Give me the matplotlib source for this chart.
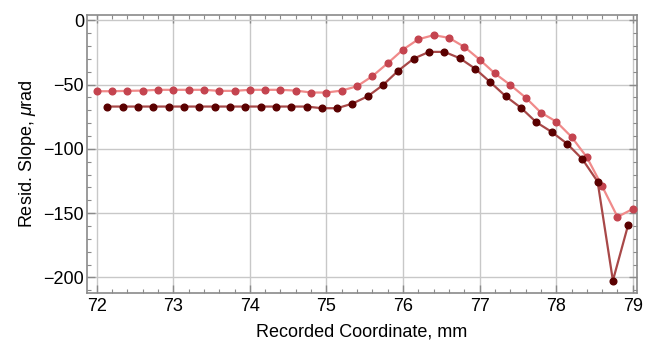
import matplotlib.pyplot as plt
import numpy as np
from matplotlib.ticker import MultipleLocator

# light series (upper curve)
x_light = [72.0, 72.2, 72.4, 72.6, 72.8, 73.0, 73.2, 73.4, 73.6, 73.8, 74.0, 74.2,
           74.4, 74.6, 74.8, 75.0, 75.2, 75.4, 75.6, 75.8, 76.0, 76.2, 76.4, 76.6,
           76.8, 77.0, 77.2, 77.4, 77.6, 77.8, 78.0, 78.2, 78.4, 78.6, 78.8, 79.0]
y_light = [-55.2, -55.2, -54.9, -54.7, -54.1, -54.1, -54.1, -54.1, -54.9, -54.9, -54.1, -54.1,
           -54.1, -54.7, -56.2, -56.2, -54.7, -51.3, -43.5, -33.4, -22.8, -14.8, -11.6, -13.7,
           -20.7, -30.6, -41.4, -50.3, -60.1, -71.8, -78.8, -90.7, -106.5, -129.1, -152.9, -146.7]

# dark series (lower curve)
x_dark = [72.14, 72.34, 72.54, 72.74, 72.94, 73.14, 73.34, 73.54, 73.74, 73.94, 74.14, 74.34,
          74.54, 74.74, 74.94, 75.14, 75.34, 75.54, 75.74, 75.94, 76.14, 76.34, 76.54, 76.74,
          76.94, 77.14, 77.34, 77.54, 77.74, 77.94, 78.14, 78.34, 78.54, 78.74, 78.94]
y_dark = [-67.1, -67.1, -67.1, -67.1, -67.1, -67.1, -67.1, -67.1, -67.1, -67.1, -67.1, -67.1,
          -67.1, -67.1, -68.4, -68.4, -64.8, -59.1, -50.3, -39.1, -29.8, -24.6, -24.6, -29.5,
          -37.6, -48.2, -59.1, -68.1, -79.3, -86.8, -95.9, -107.9, -125.4, -202.4, -158.9]

plt.rcParams['font.family'] = ['Liberation Sans', 'DejaVu Sans']
plt.rcParams['mathtext.fontset'] = 'custom'
plt.rcParams['mathtext.it'] = 'Liberation Sans:italic'

fig = plt.figure(figsize=(6.47, 3.43), dpi=100)
ax = fig.add_axes([0.134, 0.146, 0.85, 0.81])

ax.plot(x_light, y_light, color='#f08a8a', lw=1.6, marker='o', ms=4.8,
        markerfacecolor='#c4444f', markeredgecolor='#c4444f', zorder=3)
ax.plot(x_dark, y_dark, color='#a84848', lw=1.6, marker='o', ms=4.8,
        markerfacecolor='#5a0000', markeredgecolor='#5a0000', zorder=4)

ax.set_xlim(71.87, 79.05)
ax.set_ylim(-212, 4)
ax.xaxis.set_major_locator(MultipleLocator(1))
ax.xaxis.set_minor_locator(MultipleLocator(0.2))
ax.yaxis.set_major_locator(MultipleLocator(50))
ax.yaxis.set_minor_locator(MultipleLocator(10))

ax.grid(True, which='major', color='#c8c8c8', lw=1.0)
ax.set_axisbelow(True)
for s in ax.spines.values():
    s.set_color('#8a8a8a')
    s.set_linewidth(1.2)

ax.tick_params(which='both', direction='in', top=True, right=True, color='#8a8a8a')
ax.tick_params(which='major', length=6, width=1.0, labelsize=13)
ax.tick_params(which='minor', length=3, width=0.8)
ax.tick_params(axis='y', which='major', pad=2)
ax.tick_params(axis='x', which='major', pad=4)

yt = ax.get_yticks()
ax.set_yticks(yt)
ax.set_yticklabels(['\u2212' + str(int(-v)) if v < 0 else str(int(v)) for v in yt])
ax.set_ylim(-212, 4)

ax.set_xlabel('Recorded Coordinate, mm', fontsize=13, labelpad=6)
ax.set_ylabel(r'Resid. Slope, $\mathit{\mu}$rad', fontsize=13, labelpad=4)

fig.savefig('out.png', dpi=100)
